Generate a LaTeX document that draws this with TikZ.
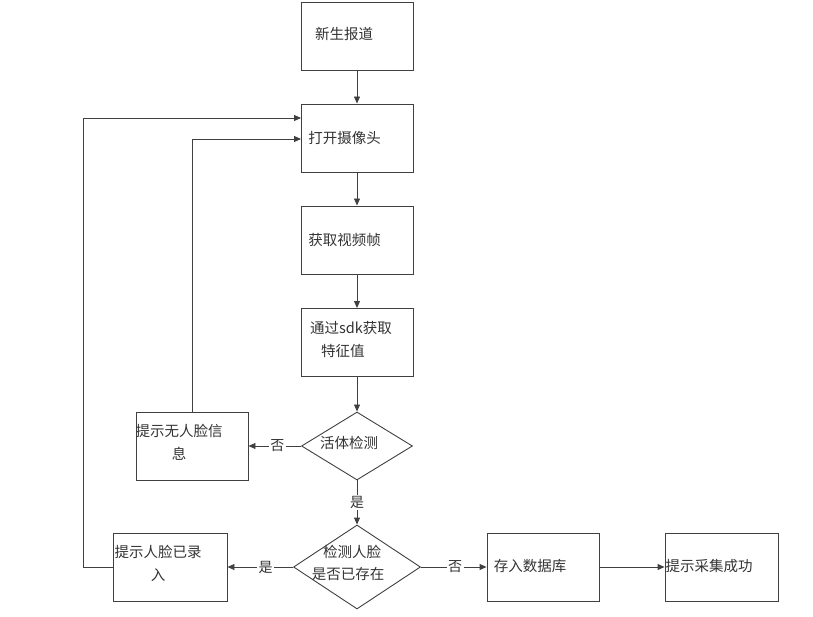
\documentclass[tikz,border=0pt]{standalone}
\usepackage{fontspec}
\newfontfamily\cjk{Noto Sans CJK SC}
\usetikzlibrary{shapes.geometric,arrows.meta}
\definecolor{ln}{HTML}{404040}
\definecolor{tx}{HTML}{333333}
\tikzset{
  stepbox/.style={draw=ln, line width=0.9pt, rectangle, inner sep=0pt, minimum width=112pt, minimum height=68pt},
  decision/.style={draw=ln, line width=0.9pt, diamond, inner sep=0pt},
  txt/.style={inner sep=0pt, font=\cjk\fontsize{14.5}{22.5}\selectfont, text=tx, align=left},
  conn/.style={draw=ln, line width=0.9pt, -{Triangle[length=7pt,width=6pt]}},
  plain/.style={draw=ln, line width=0.9pt},
  lab/.style={fill=white, inner sep=1.5pt, font=\cjk\fontsize{14}{16}\selectfont, text=tx}
}
\begin{document}
\begin{tikzpicture}[x=1pt,y=-1pt]
\useasboundingbox (0,0) rectangle (813,617);
% boxes
\node[stepbox] (b1) at (357,36) {};
\node[stepbox] (b2) at (357,138) {};
\node[stepbox] (b3) at (357,240) {};
\node[stepbox] (b4) at (357,342.5) {};
\node[decision, minimum width=111pt, minimum height=68pt] (d1) at (357,446) {};
\node[stepbox] (nf) at (192,446) {};
\node[decision, minimum width=127pt, minimum height=84pt] (d2) at (357,567) {};
\node[stepbox, minimum width=114pt] (ex) at (170,567) {};
\node[stepbox] (st) at (543,567) {};
\node[stepbox, minimum width=113pt] (ok) at (721.5,567) {};
% texts
\node[txt] (t1) at (344,34) {新生报道};
\node[txt] (t2) at (344.5,138) {打开摄像头};
\node[txt] (t3) at (344.5,240) {获取视频帧};
\node[txt, anchor=west] (t4) at (310,339.5) {通过sdk获取\\\hspace{11pt}特征值};
\node[txt] (t5) at (349,443) {活体检测};
\node[txt, align=center] (t6) at (348,563) {\hspace{8pt}检测人脸\\是否已存在};
\node[txt, align=center] (t7) at (179,442.5) {提示无人脸信\\息};
\node[txt, align=center] (t8) at (158,563.5) {提示人脸已录\\入};
\node[txt] (t9) at (530,566) {存入数据库};
\node[txt] (t10) at (709,566) {提示采集成功};
% coordinates
\coordinate (b2a) at (301,118);
\coordinate (b2b) at (301,139);
\coordinate (lc1) at (83,567);
\coordinate (lc2) at (83,118);
% connectors
\draw[conn] (b1) -- (b2);
\draw[conn] (b2) -- (b3);
\draw[conn] (b3) -- (b4);
\draw[conn] (b4) -- (d1);
\draw[conn] (d1) -- node[lab] {是} (d2);
\draw[conn] (d1) -- node[lab, pos=0.45] {否} (nf);
\draw[conn] (nf.north) |- (b2b);
\draw[conn] (d2) -- node[lab, pos=0.42] {是} (ex);
\draw[plain] (ex.west) -- (lc1) -- (lc2);
\draw[conn] (lc2) -- (b2a);
\draw[conn] (d2) -- node[lab, pos=0.52] {否} (st);
\draw[conn] (st) -- (ok);
\end{tikzpicture}
\end{document}
